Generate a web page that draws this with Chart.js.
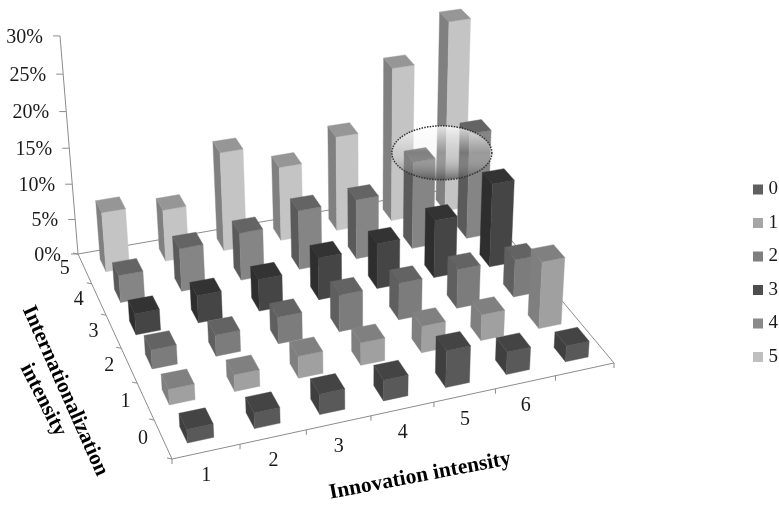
<!DOCTYPE html>
<html><head><meta charset="utf-8">
<style>html,body{margin:0;padding:0;background:#fff}canvas{display:block}</style>
<script src="https://cdn.jsdelivr.net/npm/chart.js@4"></script>
</head><body><canvas id="c" width="779" height="509"></canvas>
<script>
// ---- data (percent), rows = internationalization intensity, columns = innovation positions
const innovationPositions = [1,2,3,4,5,6,7];
const innovationLabels = ['1','2','3','4','5','6',''];
const internationalizationLevels = [0,1,2,3,4,5];
const row0 = [1.8,2.1,2.75,2.8,5.0,3.1,2.2];
const row1 = [2.1,2.25,3.0,3.1,3.7,3.6,9.3];
const row2 = [2.6,2.9,3.7,5.1,5.15,5.5,5.3];
const row3 = [2.9,3.8,4.45,5.9,6.4,8.2,11.9];
const row4 = [3.8,6.0,6.7,8.4,8.5,12.45,15.15];
const row5 = [8.4,7.3,14.0,10.6,13.6,22.0,27.3];
const rows = [row0,row1,row2,row3,row4,row5];
const legendColors = ['#5f5f5f','#a6a6a6','#7f7f7f','#4d4d4d','#8a8a8a','#bfbfbf'];
const topColors   = ['#444444','#808080','#636363','#333333','#646464','#969696'];
const frontColors = ['#595959','#a0a0a0','#7c7c7c','#454545','#858585','#c4c4c4'];
const sideColors  = ['#3f3f3f','#7f7f7f','#5f5f5f','#2e2e2e','#5a5a5a','#808080'];
const xTitle = 'Innovation intensity';
const rowTitle = ['Internationalization','intensity'];
const highlight = {x:6.4,row:4,y:12.2};

// ---- view: floor corners and vertical vanishing point of the 3D camera
const B={x:172,y:459},C={x:614,y:363},A={x:78,y:254},D={x:466,y:186};
const VP={x:368,y:3770}, wallTau=-0.0584, barFracU=0.39, barFracV=0.42;
const dx1=C.x-D.x,dx2=A.x-D.x,sx=B.x-C.x+D.x-A.x,dy1=C.y-D.y,dy2=A.y-D.y,sy=B.y-C.y+D.y-A.y;
const den=dx1*dy2-dx2*dy1;
const g=(sx*dy2-dx2*sy)/den,h=(dx1*sy-sx*dy1)/den;
const a=C.x-B.x+g*C.x,b=A.x-B.x+h*A.x,d=C.y-B.y+g*C.y,e=A.y-B.y+h*A.y;
function proj(u,v,w){
  const t=wallTau*(h+1)*w;
  const W=g*u+h*v+1+t;
  return {x:(a*u+b*v+B.x+t*VP.x)/W,y:(d*u+e*v+B.y+t*VP.y)/W};
}
function poly(ctx,pts,fill){
  ctx.beginPath();pts.forEach((p,i)=>i?ctx.lineTo(p.x,p.y):ctx.moveTo(p.x,p.y));ctx.closePath();
  ctx.fillStyle=fill;ctx.fill();ctx.strokeStyle=fill;ctx.lineWidth=0.4;ctx.stroke();
}
function line(ctx,p,q){ctx.beginPath();ctx.moveTo(p.x,p.y);ctx.lineTo(q.x,q.y);ctx.stroke();}
const SERIF='"Liberation Serif"';
const dec=(s,v)=>s.getDecimalForPixel(s.getPixelForValue(v));

const bars3d={
  id:'bars3d',
  afterLayout(chart){
    // legend block placed as in the reference
    chart.legend.left=742.5; chart.legend.top=165.5;
  },
  afterDatasetsDraw(chart){
    const ctx=chart.ctx,X=chart.scales.x,Y=chart.scales.y,R=chart.scales.r;
    const U=v=>dec(X,v),V=v=>dec(R,v),Z=v=>dec(Y,v);
    ctx.save();
    // axis lines
    ctx.strokeStyle='#8c8c8c';ctx.lineWidth=1;
    line(ctx,proj(0,1,0),proj(0,1,1));
    line(ctx,proj(0,1,0),proj(1,1,0));
    line(ctx,proj(0,1,0),proj(0,0,0));
    line(ctx,proj(0,0,0),proj(1,0,0));
    line(ctx,proj(1,0,0),proj(1,1,0));
    ctx.fillStyle='#1a1a1a';ctx.textBaseline='middle';
    ctx.font='20px '+SERIF;
    // value axis
    ctx.textAlign='right';
    Y.ticks.forEach(t=>{
      const p=proj(0,1,Z(t.value));
      line(ctx,{x:p.x-7,y:p.y},p);
      ctx.fillText(t.label,p.x-17,p.y+1.5);
    });
    // row axis
    ctx.textAlign='center';
    for(let i=0;i<=6;i++){const p=proj(0,i/6,0);line(ctx,{x:p.x-5,y:p.y-1},p);}
    R.ticks.forEach(t=>{const p=proj(0,V(t.value),0);ctx.fillText(t.label,p.x-20,p.y);});
    // innovation axis
    for(let i=0;i<=7;i++){const p=proj(i/7,0,0);line(ctx,p,{x:p.x,y:p.y+5});}
    X.ticks.forEach(t=>{const p=proj(U(t.value),0,0);ctx.fillText(t.label,p.x,p.y+24);});
    // bars back to front
    for(let di=chart.data.datasets.length-1;di>=0;di--){
      const ds=chart.data.datasets[di];
      ds.data.forEach(pt=>{
        const cw=barFracU/7/2,ch=barFracV/6/2,u=U(pt.x),v=V(ds.row),z=Z(pt.y);
        const q=(uu,vv,w)=>proj(u+uu*cw,v+vv*ch,w);
        poly(ctx,[q(-1,1,0),q(-1,-1,0),q(-1,-1,z),q(-1,1,z)],sideColors[di]);
        poly(ctx,[q(-1,-1,0),q(1,-1,0),q(1,-1,z),q(-1,-1,z)],frontColors[di]);
        poly(ctx,[q(-1,-1,z),q(1,-1,z),q(1,1,z),q(-1,1,z)],topColors[di]);
      });
    }
    // titles
    ctx.fillStyle='#000';ctx.font='bold 21.5px '+SERIF;ctx.textAlign='center';
    const rot=(txt,x,y,ang)=>{ctx.save();ctx.translate(x,y);ctx.rotate(ang*Math.PI/180);ctx.fillText(txt,0,0);ctx.restore();};
    rot(xTitle,420,476,-10.8);
    rot(rowTitle[0],65,391,66);
    rot(rowTitle[1],43,400,63);
    // highlighted ellipse
    const c=proj(U(highlight.x),V(highlight.row),Z(highlight.y));
    const gr=ctx.createLinearGradient(0,c.y-27,0,c.y+27);
    gr.addColorStop(0,'rgba(255,255,255,0.8)');
    gr.addColorStop(0.5,'rgba(235,235,235,0.2)');
    gr.addColorStop(1,'rgba(80,80,80,0.8)');
    ctx.beginPath();ctx.ellipse(c.x,c.y,50,27,0,0,Math.PI*2);
    ctx.fillStyle=gr;ctx.fill();
    ctx.setLineDash([1.5,1.2]);ctx.lineWidth=1.5;ctx.strokeStyle='#333';ctx.stroke();
    ctx.restore();
  }
};

new Chart(document.getElementById('c'),{
  type:'scatter',
  data:{datasets:internationalizationLevels.map((lv,i)=>({
    label:String(lv),row:lv,
    data:rows[i].map((v,j)=>({x:innovationPositions[j],y:v})),
    backgroundColor:legendColors[i],borderColor:legendColors[i],borderWidth:0,pointRadius:0,pointHoverRadius:0
  }))},
  options:{
    responsive:false,animation:false,devicePixelRatio:1,
    events:[],
    scales:{
      x:{type:'linear',display:false,min:0.5,max:7.5,
        afterBuildTicks:s=>{s.ticks=innovationPositions.map(v=>({value:v}));},
        ticks:{autoSkip:false,callback:v=>innovationLabels[v-1]}},
      y:{type:'linear',display:false,min:0,max:30,ticks:{stepSize:5,autoSkip:false,callback:v=>v+'%'}},
      r:{type:'linear',axis:'y',display:false,min:-0.5,max:5.5,
        afterBuildTicks:s=>{s.ticks=internationalizationLevels.map(v=>({value:v}));},
        ticks:{autoSkip:false,callback:v=>String(v)}}
    },
    plugins:{
      tooltip:{enabled:false},
      legend:{display:true,position:'right',align:'start',
        labels:{usePointStyle:true,pointStyle:'rect',boxWidth:2,boxHeight:10,padding:14.5,color:'#1a1a1a',
          font:{family:'Liberation Serif',size:19}}}
    }
  },
  plugins:[bars3d]
});
</script></body></html>
